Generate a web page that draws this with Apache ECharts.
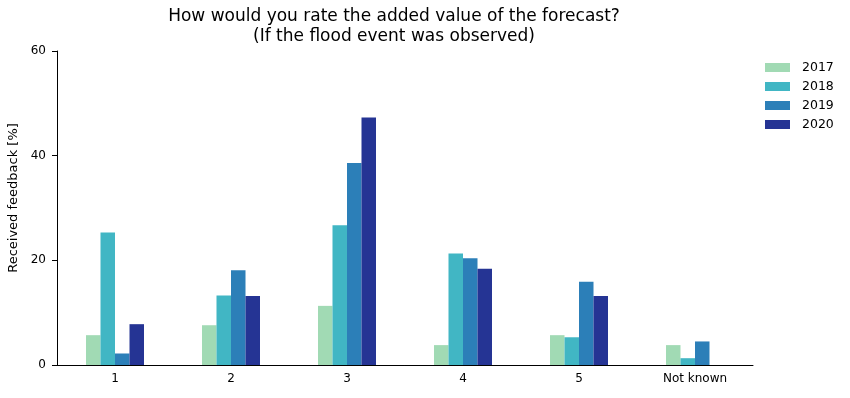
<!DOCTYPE html>
<html>
<head>
<meta charset="utf-8">
<script src="https://cdn.jsdelivr.net/npm/echarts@6/dist/echarts.min.js"></script>
<style>
  html, body { margin: 0; padding: 0; background: #fff; }
  #chart { width: 850px; height: 398px; }
</style>
</head>
<body>
<div id="chart"></div>
<script>
// categories and values
var categories = ['1', '2', '3', '4', '5', 'Not known'];
var years = ['2017', '2018', '2019', '2020'];
var v2017 = [5.7, 7.6, 11.3, 3.8, 5.7, 3.8];
var v2018 = [25.3, 13.3, 26.7, 21.3, 5.3, 1.3];
var v2019 = [2.2, 18.1, 38.6, 20.4, 15.9, 4.5];
var v2020 = [7.8, 13.2, 47.3, 18.4, 13.2, 0];
var yTicks = [0, 20, 40, 60];

var colors = ['#a1dab4', '#41b6c4', '#2c7fb8', '#253494'];
var values = [v2017, v2018, v2019, v2020];

var chart = echarts.init(document.getElementById('chart'));

var series = [];
for (var i = 0; i < years.length; i++) {
	series.push({
		name: years[i],
		type: 'bar',
		data: values[i],
		barGap: '0%',
		barCategoryGap: '50%',
		itemStyle: { color: colors[i] }
	});
}

chart.setOption({
	animation: false,
	textStyle: { fontFamily: 'DejaVu Sans' },
	title: {
		text: 'How would you rate the added value of the forecast?\n(If the flood event was observed)',
		left: 394,
		top: 7,
		padding: 0,
		textAlign: 'center',
		textStyle: {
			fontFamily: 'DejaVu Sans',
			fontSize: 17,
			fontWeight: 'normal',
			color: '#000',
			lineHeight: 20
		}
	},
	legend: {
		orient: 'vertical',
		left: 765,
		top: 61,
		padding: 0,
		itemWidth: 25,
		itemHeight: 9,
		itemGap: 6,
		icon: 'rect',
		textStyle: { fontSize: 12.5, color: '#000', fontFamily: 'DejaVu Sans', padding: [0, 0, 0, 7] },
		data: years
	},
	grid: {
		left: 57,
		top: 51,
		width: 696,
		height: 314,
		containLabel: false,
		outerBoundsMode: 'none'
	},
	xAxis: {
		type: 'category',
		data: categories,
		axisLine: { lineStyle: { color: '#000', width: 1 } },
		axisTick: { alignWithLabel: true, length: 5, lineStyle: { color: '#000' } },
		axisLabel: { color: '#000', fontSize: 12, margin: 8, interval: 0 }
	},
	yAxis: {
		type: 'value',
		min: yTicks[0],
		max: yTicks[yTicks.length - 1],
		interval: 20,
		name: 'Received feedback [%]',
		nameLocation: 'middle',
		nameGap: 31,
		nameTextStyle: { fontSize: 13, color: '#000', fontFamily: 'DejaVu Sans', padding: [0, 0, 0, 20] },
		splitLine: { show: false },
		axisLine: { show: true, lineStyle: { color: '#000', width: 1 } },
		axisTick: { show: true, length: 5, lineStyle: { color: '#000' } },
		axisLabel: { color: '#000', fontSize: 12, margin: 11 }
	},
	series: series
});
</script>
</body>
</html>
